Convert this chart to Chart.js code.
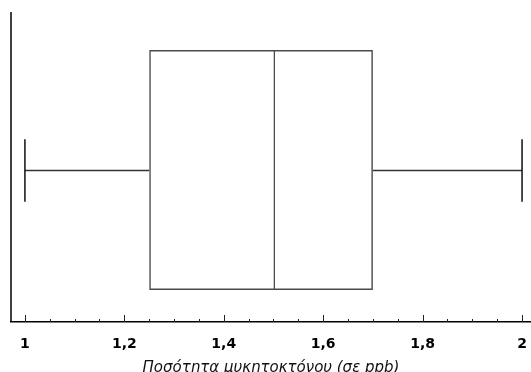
<!DOCTYPE html>
<html>
<head>
<meta charset="utf-8">
<script src="https://cdn.jsdelivr.net/npm/chart.js@4/dist/chart.umd.min.js"></script>
<style>
  html, body { margin: 0; padding: 0; background: #fff; }
  #wrap { width: 531px; height: 372px; }
</style>
</head>
<body>
<div id="wrap"><canvas id="boxChart"></canvas></div>
<script>
// box plot stats (ppb)
const whiskerMin = 1
const quartile1 = 1.25
const medianVal = 1.5
const quartile3 = 1.7
const whiskerMax = 2

const majorTicks = [1, 1.2, 1.4, 1.6, 1.8, 2]
const minorTicks = [1.05, 1.1, 1.15, 1.25, 1.3, 1.35, 1.45, 1.5, 1.55, 1.65, 1.7, 1.75, 1.85, 1.9, 1.95]
const axisTitle = 'Ποσότητα μυκητοκτόνου (σε ppb)'

const lineColor = '#4a4a4a'

// whiskers + inward tick marks
const whiskerPlugin = {
    id: 'whiskers',
    afterDatasetsDraw(chart) {
        const ctx = chart.ctx
        const xs = chart.scales.x
        const bar = chart.getDatasetMeta(0).data[0]
        const yc = Math.round(bar.y) + 0.5
        const cap = bar.height * 0.13
        ctx.save()
        ctx.strokeStyle = '#333'
        ctx.lineWidth = 1.5
        ctx.beginPath()
        ctx.moveTo(xs.getPixelForValue(whiskerMin), yc)
        ctx.lineTo(xs.getPixelForValue(quartile1), yc)
        ctx.moveTo(xs.getPixelForValue(quartile3), yc)
        ctx.lineTo(xs.getPixelForValue(whiskerMax), yc)
        ctx.stroke()
        ctx.strokeStyle = '#111'
        ctx.lineWidth = 1.5
        ctx.beginPath()
        ctx.moveTo(xs.getPixelForValue(whiskerMin), yc - cap)
        ctx.lineTo(xs.getPixelForValue(whiskerMin), yc + cap)
        ctx.moveTo(xs.getPixelForValue(whiskerMax), yc - cap)
        ctx.lineTo(xs.getPixelForValue(whiskerMax), yc + cap)
        ctx.stroke()
        ctx.restore()
    },
    afterDraw(chart) {
        const ctx = chart.ctx
        const xs = chart.scales.x
        const area = chart.chartArea
        const yb = area.bottom
        ctx.save()
        // y axis line, starting a bit above the plot area
        ctx.strokeStyle = '#000'
        ctx.lineWidth = 1.5
        ctx.beginPath()
        ctx.moveTo(area.left, 12)
        ctx.lineTo(area.left, yb)
        ctx.stroke()
        ctx.strokeStyle = '#222'
        ctx.lineWidth = 1
        ctx.beginPath()
        majorTicks.forEach(v => {
            const x = Math.round(xs.getPixelForValue(v)) + 0.5
            ctx.moveTo(x, yb)
            ctx.lineTo(x, yb - 7)
        })
        minorTicks.forEach(v => {
            const x = Math.round(xs.getPixelForValue(v)) + 0.5
            ctx.moveTo(x, yb)
            ctx.lineTo(x, yb - 3)
        })
        ctx.stroke()
        ctx.restore()
    }
}

const ctxb = document.getElementById('boxChart').getContext('2d')
const boxChart = new Chart(ctxb, {
    type: 'bar',
    data: {
        labels: [''],
        datasets: [{
            data: [[quartile1, quartile3]],
            backgroundColor: 'rgba(255,255,255,0)',
            borderColor: lineColor,
            borderWidth: 1.5,
            borderSkipped: false,
            grouped: false,
            barPercentage: 0.79,
            categoryPercentage: 1
        }, {
            // median line = left edge of this bar
            data: [[medianVal, quartile3]],
            backgroundColor: 'rgba(255,255,255,0)',
            borderColor: lineColor,
            borderWidth: { left: 1.5, right: 0, top: 0, bottom: 0 },
            borderSkipped: false,
            grouped: false,
            barPercentage: 0.79,
            categoryPercentage: 1
        }]
    },
    options: {
        indexAxis: 'y',
        responsive: true,
        maintainAspectRatio: false,
        animation: false,
        layout: { padding: { top: 18, left: 11, right: 0, bottom: 0 } },
        plugins: { legend: { display: false }, tooltip: { enabled: false } },
        scales: {
            x: {
                type: 'linear',
                min: 0.972,
                max: 2.018,
                afterBuildTicks: scale => { scale.ticks = majorTicks.map(v => ({ value: v })) },
                afterFit: scale => {
                    scale.height = 50
                    scale.paddingLeft = 0
                    scale.paddingRight = 0
                },
                grid: { display: false, drawTicks: false },
                border: { display: true, color: '#000', width: 1.5 },
                ticks: {
                    padding: 14,
                    color: '#000',
                    maxRotation: 0,
                    font: { family: 'DejaVu Sans', size: 14, weight: 'bold' },
                    callback: v => String(v).replace('.', ',')
                },
                title: {
                    display: true,
                    text: axisTitle,
                    color: '#111',
                    padding: { top: 0, bottom: -5 },
                    font: { family: 'DejaVu Sans', size: 15, style: 'italic' }
                }
            },
            y: {
                afterFit: scale => { scale.width = 0 },
                grid: { display: false, drawTicks: false },
                border: { display: false },
                ticks: { display: false }
            }
        }
    },
    plugins: [whiskerPlugin]
})
</script>
</body>
</html>
